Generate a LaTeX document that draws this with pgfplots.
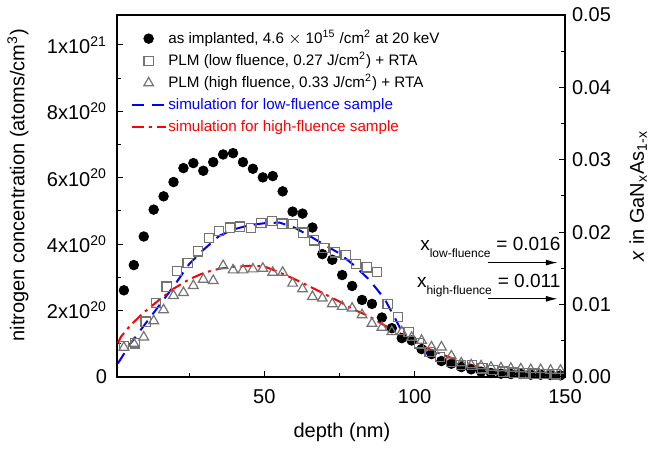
\documentclass[border=0pt]{standalone}
\usepackage{pgfplots}
\pgfplotsset{compat=1.18}
\usepackage{fontspec}
\setmainfont{Liberation Sans}
\usetikzlibrary{arrows.meta}

\pgfplotstableread{
d v
3.3 2.61
6.6 3.37
9.9 4.23
13.2 5.04
16.5 5.44
19.8 5.87
23.1 6.29
26.4 6.44
29.7 6.21
33.0 6.47
36.3 6.70
39.6 6.74
42.9 6.47
46.2 6.27
49.5 6.01
52.8 6.05
56.1 5.59
59.4 4.98
62.7 4.92
66.0 4.50
69.3 3.70
72.6 3.53
75.9 3.07
79.2 2.74
82.5 2.32
85.8 2.20
89.1 1.79
92.4 1.47
95.7 1.17
99.0 1.10
102.3 0.84
105.6 0.69
108.9 0.48
112.2 0.40
115.5 0.30
118.8 0.23
122.1 0.16
125.4 0.12
128.7 0.10
132.0 0.09
135.3 0.09
138.6 0.07
141.9 0.07
145.2 0.06
148.5 0.05
}\asimpl

\pgfplotstableread{
d v
3.4 0.94
7.0 1.01
10.5 1.67
14.0 2.22
17.5 2.72
21.0 3.19
24.5 3.44
28.0 3.78
31.5 4.18
35.0 4.39
38.5 4.50
42.0 4.53
45.5 4.49
49.0 4.63
52.5 4.69
56.0 4.62
59.5 4.60
63.0 4.35
66.5 4.11
70.0 3.88
73.5 3.75
77.0 3.67
80.5 3.40
84.0 3.30
87.5 3.16
91.0 2.20
94.5 1.80
98.0 1.36
101.5 1.01
105.0 0.76
108.5 0.61
112.0 0.46
115.5 0.36
119.0 0.36
122.5 0.26
126.0 0.21
129.5 0.16
133.0 0.13
136.5 0.11
140.0 0.10
143.5 0.09
147.0 0.08
}\lowfl

\pgfplotstableread{
d v
3.3 0.89
6.6 1.01
9.9 1.20
13.2 1.69
16.5 2.02
19.8 2.45
23.1 2.54
26.4 2.75
29.7 2.94
33.0 2.90
36.3 3.35
39.6 3.22
42.9 3.22
46.2 3.25
49.5 3.27
52.8 3.15
56.1 3.15
59.4 2.82
62.7 2.65
66.0 2.42
69.3 2.37
72.6 2.20
75.9 2.12
79.2 2.07
82.5 1.87
85.8 1.61
89.1 1.49
92.4 1.36
95.7 1.36
99.0 1.19
102.3 1.10
105.6 0.90
108.9 0.90
112.2 0.63
115.5 0.42
118.8 0.36
122.1 0.33
125.4 0.29
128.7 0.27
132.0 0.26
135.3 0.24
138.6 0.22
141.9 0.22
145.2 0.20
148.5 0.20
}\highfl

\pgfplotstableread{
d v
1.3 0.41
3 0.65
5 0.95
10 1.55
15 2.15
20 2.75
25 3.40
30 3.85
35 4.25
40 4.45
45 4.57
50 4.63
55 4.65
60 4.50
65 4.25
70 3.98
75 3.72
80 3.35
85 2.92
90 2.35
93 1.85
95 1.50
98 1.10
100 0.95
105 0.68
110 0.45
115 0.32
120 0.22
125 0.15
130 0.10
135 0.07
140 0.05
145 0.04
150 0.03
}\simlow

\pgfplotstableread{
d v
1.3 1.02
2.3 1.21
5.6 1.57
10 1.95
15 2.32
20 2.67
25 2.94
30 3.14
35 3.26
40 3.32
45 3.35
50 3.33
55 3.15
60 2.95
65 2.73
70 2.50
75 2.27
80 2.02
85 1.82
90 1.55
95 1.32
100 1.08
105 0.83
110 0.65
115 0.48
120 0.33
125 0.20
130 0.10
135 0.04
140 0.02
145 0.01
150 0.01
}\simhigh

\begin{document}
\begin{tikzpicture}
\pgfplotsset{
 every axis/.append style={
  scale only axis, width=224pt, height=181pt,
  xmin=1, xmax=150,
  tick align=inside,
  major tick length=3pt, minor tick length=1.8pt,
  tick style={black, line width=0.5pt},
  axis line style={line width=0.6pt},
  scaled ticks=false,
  /pgf/number format/assume math mode=true,
  ticklabel style={font=\fontsize{10}{12}\selectfont},
  label style={font=\fontsize{10}{12}\selectfont, inner sep=0pt},
 }
}
\begin{axis}[name=main, ymin=0, ymax=10.9,
  xtick={50,100,150}, minor xtick={25,75,125},
  xtick pos=bottom, ytick pos=left,
  ytick={0,2,4,6,8,10}, minor ytick={1,3,5,7,9},
  yticklabels={0, 2x10\textsuperscript{20}, 4x10\textsuperscript{20}, 6x10\textsuperscript{20}, 8x10\textsuperscript{20}, 1x10\textsuperscript{21}},
  xticklabel style={yshift=-2.5pt},
  yticklabel style={xshift=-1.5pt},
  xlabel={depth (nm)},
  ylabel={nitrogen concentration (atoms/cm\textsuperscript{3})},
  xlabel style={at={(axis description cs:0.502,-0.152)}, anchor=center},
  ylabel style={at={(axis description cs:-0.221,0.53)}, anchor=center},
  legend cell align=left,
  legend style={at={(axis description cs:0.016,0.972)}, anchor=north west,
    draw=none, fill=none, font=\fontsize{7.6}{9}\selectfont,
    nodes={inner sep=0.8pt, text height=6pt, text depth=1.5pt}, row sep=2pt},
]
\addplot[only marks, mark=*, mark size=2.4pt, black] table[x=d,y=v] {\asimpl};
\addlegendentry{as implanted, 4.6 $\times$ 10\textsuperscript{15} /cm\textsuperscript{2} at 20 keV}
\addplot[only marks, mark=square, mark size=2.3pt, draw=black!55, mark options={line width=0.6pt}] table[x=d,y=v] {\lowfl};
\addlegendentry{PLM (low fluence, 0.27 J/cm\textsuperscript{2}) + RTA}
\addplot[only marks, mark=triangle, mark size=2.8pt, draw=black!55, mark options={line width=0.6pt}] table[x=d,y=v] {\highfl};
\addlegendentry{PLM (high fluence, 0.33 J/cm\textsuperscript{2}) + RTA}
\addplot[blue, line width=1pt, dash pattern=on 6pt off 4pt, no marks] table[x=d,y=v] {\simlow};
\addlegendentry{\textcolor{blue}{simulation for low-fluence sample}}
\addplot[red, line width=1pt, dash pattern=on 6pt off 2.5pt on 1.5pt off 2.5pt, no marks] table[x=d,y=v] {\simhigh};
\addlegendentry{\textcolor{red}{simulation for high-fluence sample}}
\end{axis}
\begin{axis}[axis x line=none, axis y line*=right, ymin=0, ymax=0.05,
  tick align=inside,
  ytick={0,0.01,0.02,0.03,0.04,0.05},
  yticklabels={0.00,0.01,0.02,0.03,0.04,0.05},
  minor ytick={0.005,0.015,0.025,0.035,0.045},
  ylabel={\textit{x} in GaN\textsubscript{x}As\textsubscript{1-x}},
  ylabel style={at={(axis description cs:1.163,0.5)}, anchor=center},
  clip=false,
]
\draw[-{Latex[length=6pt,width=3pt]}, line width=0.6pt] (axis cs:124.3,0.0158) -- (axis cs:147.6,0.0158);
\draw[-{Latex[length=6pt,width=3pt]}, line width=0.6pt] (axis cs:124.5,0.0108) -- (axis cs:147.6,0.0108);
\node[anchor=base east, inner sep=0pt, font=\fontsize{9.5}{11}\selectfont] at (axis cs:148.6,0.0175)
  {x\raisebox{-3.5pt}{\fontsize{6}{7}\selectfont low-fluence}\hspace{3pt}= 0.016};
\node[anchor=base east, inner sep=0pt, font=\fontsize{9.5}{11}\selectfont] at (axis cs:148.6,0.0123)
  {x\raisebox{-3.5pt}{\fontsize{6}{7}\selectfont high-fluence}\hspace{3pt}= 0.011};
\end{axis}
\path (main.south west) ++(-58.5pt,-36pt) coordinate (bbA);
\path (main.north east) ++(42.5pt,7.5pt) coordinate (bbB);
\path (bbA) rectangle (bbB);
\end{tikzpicture}
\end{document}
